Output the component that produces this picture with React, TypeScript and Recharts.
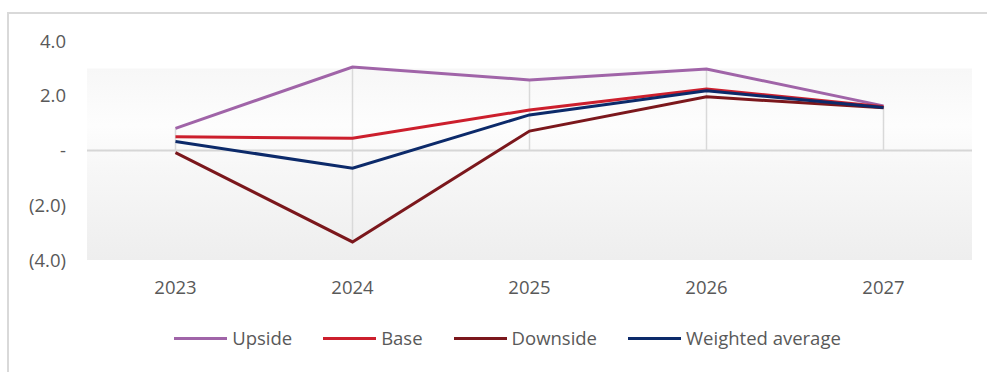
import { LineChart, Line, XAxis, YAxis, ReferenceLine, ReferenceArea } from 'recharts';

const YEARS = ['2023', '2024', '2025', '2026', '2027'];
const UPSIDE = [0.81, 3.05, 2.58, 2.98, 1.63];
const BASE = [0.5, 0.45, 1.48, 2.25, 1.6];
const DOWNSIDE = [-0.08, -3.34, 0.71, 1.96, 1.56];
const WEIGHTED = [0.33, -0.65, 1.3, 2.18, 1.57];
const Y_TICKS = [-4, -2, 0, 2, 4];

const SERIES = [
  { key: 'upside', name: 'Upside', color: '#a064a8' },
  { key: 'base', name: 'Base', color: '#cc1f2d' },
  { key: 'downside', name: 'Downside', color: '#7b171c' },
  { key: 'weighted', name: 'Weighted average', color: '#0c2a6a' },
];

const data = YEARS.map((year, i) => ({
  year,
  upside: UPSIDE[i],
  base: BASE[i],
  downside: DOWNSIDE[i],
  weighted: WEIGHTED[i],
}));

// drop lines from each point to the zero axis
const dropLines = YEARS.map((year, i) => {
  const vals = [UPSIDE[i], BASE[i], DOWNSIDE[i], WEIGHTED[i]];
  return { year, hi: Math.max(0, ...vals), lo: Math.min(0, ...vals) };
});

const FONT = '"Open Sans", sans-serif';
const TEXT = '#595959';
const FONT_SIZE = 18.5;

function formatTick(v: number): string {
  if (v === 0) return '-';
  const s = Math.abs(v).toFixed(1);
  return v < 0 ? `(${s})` : s;
}

export default function App() {
  return (
    <div
      style={{
        position: 'absolute',
        left: 0,
        top: 0,
        width: 987,
        height: 372,
        overflow: 'hidden',
        background: '#fff',
        fontFamily: FONT,
      }}
    >
      <svg width={0} height={0} style={{ position: 'absolute' }}>
        <defs>
          <linearGradient id="plotBg" x1="0" y1="0" x2="0" y2="1">
            <stop offset="0%" stopColor="#f7f7f7" />
            <stop offset="30%" stopColor="#fdfdfd" />
            <stop offset="52%" stopColor="#f7f7f7" />
            <stop offset="100%" stopColor="#eeeeee" />
          </linearGradient>
        </defs>
      </svg>
      <div
        style={{
          position: 'absolute',
          left: 7,
          top: 12,
          width: 1000,
          height: 400,
          border: '2px solid #d9d9d9',
          boxSizing: 'border-box',
        }}
      />
      <div style={{ position: 'absolute', left: 0, top: 0 }}>
        <LineChart
          width={987}
          height={372}
          data={data}
          margin={{ top: 41, right: 15, bottom: 72, left: 7 }}
        >
          <XAxis
            dataKey="year"
            scale="band"
            axisLine={false}
            tickLine={false}
            tickSize={0}
            tickMargin={21}
            height={40}
            tick={{ fill: TEXT, fontSize: FONT_SIZE, fontFamily: FONT }}
          />
          <YAxis
            domain={[-4, 4]}
            ticks={Y_TICKS}
            width={80}
            axisLine={false}
            tickLine={false}
            tickSize={0}
            tickMargin={21}
            tickFormatter={formatTick}
            tick={{ fill: TEXT, fontSize: FONT_SIZE, fontFamily: FONT }}
          />
          <ReferenceArea y1={-4} y2={3} fill="url(#plotBg)" fillOpacity={1} stroke="none" />
          <ReferenceLine y={0} stroke="#d6d6d6" strokeWidth={2} />
          {dropLines.map((d) => (
            <ReferenceLine
              key={d.year}
              segment={[
                { x: d.year, y: d.hi },
                { x: d.year, y: d.lo },
              ]}
              stroke="#d9d9d9"
              strokeWidth={1.5}
            />
          ))}
          {SERIES.map((s) => (
            <Line
              key={s.key}
              type="linear"
              dataKey={s.key}
              name={s.name}
              stroke={s.color}
              strokeWidth={3}
              dot={false}
              activeDot={false}
              isAnimationActive={false}
            />
          ))}
        </LineChart>
      </div>
      <div
        style={{
          position: 'absolute',
          left: 0,
          top: 325,
          width: 1015,
          display: 'flex',
          justifyContent: 'center',
          alignItems: 'center',
          gap: 31,
          fontSize: FONT_SIZE,
          lineHeight: '26px',
          color: TEXT,
        }}
      >
        {SERIES.map((s) => (
          <div key={s.key} style={{ display: 'flex', alignItems: 'center' }}>
            <span
              style={{
                display: 'inline-block',
                width: 53,
                height: 3,
                background: s.color,
                marginRight: 5,
              }}
            />
            <span>{s.name}</span>
          </div>
        ))}
      </div>
    </div>
  );
}
